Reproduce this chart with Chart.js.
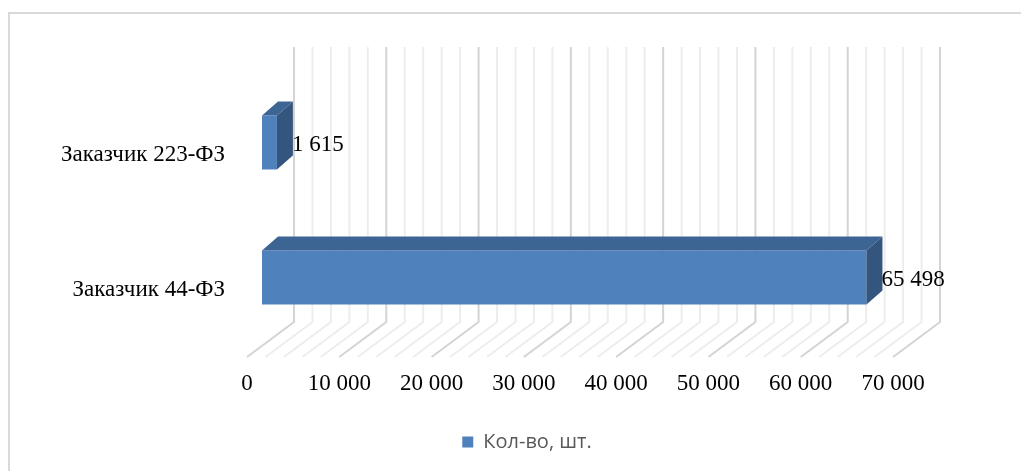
<!DOCTYPE html>
<html>
<head>
<meta charset="utf-8">
<script src="https://cdn.jsdelivr.net/npm/chart.js@4"></script>
<style>
  html, body { margin: 0; padding: 0; background: #fff; }
</style>
</head>
<body>
<canvas id="myChart" width="1021" height="471"></canvas>
<script>
// data
var categories = ["Заказчик 223-ФЗ", "Заказчик 44-ФЗ"];
var values = [1615, 65498];
var seriesName = "Кол-во, шт.";
var axisMax = 70000;
var majorStep = 10000;
var minorStep = 2000;

function fmt(v) {
  return String(v).replace(/\B(?=(\d{3})+(?!\d))/g, ' ');
}

// 3d look: back wall + floor, bar top/side faces, value labels
var depthX = 47, depthY = 35;   // floor depth
var barDX = 15, barDY = -12;    // where the bar front sits
var faceDX = 16, faceDY = 14;   // bar thickness in depth

var threeD = {
  id: 'threeD',
  beforeDraw: function (chart) {
    var c = chart.ctx;
    c.save();
    c.strokeStyle = '#d9d9d9';
    c.lineWidth = 2;
    c.strokeRect(9, 13, 1040, 500);
    c.restore();
  },
  beforeDatasetsDraw: function (chart) {
    var c = chart.ctx, x = chart.scales.x, a = chart.chartArea;
    c.save();
    c.lineWidth = 2;
    for (var v = 0; v <= axisMax; v += minorStep) {
      var px = x.getPixelForValue(v);
      c.strokeStyle = (v % majorStep === 0) ? '#d4d4d4' : '#ededed';
      c.beginPath();
      c.moveTo(px + depthX, 47);
      c.lineTo(px + depthX, a.bottom - depthY);
      c.lineTo(px, a.bottom);
      c.stroke();
    }
    c.restore();
    c.save();
    c.translate(barDX, barDY);
  },
  afterDatasetsDraw: function (chart) {
    var c = chart.ctx;
    var meta = chart.getDatasetMeta(0);
    meta.data.forEach(function (bar) {
      var p = bar.getProps(['x', 'y', 'base', 'height'], true);
      var y0 = p.y - p.height / 2, y1 = p.y + p.height / 2;
      var x0 = p.base, x1 = p.x;
      c.fillStyle = '#3d6594';
      c.beginPath();
      c.moveTo(x0, y0);
      c.lineTo(x1, y0);
      c.lineTo(x1 + faceDX, y0 - faceDY);
      c.lineTo(x0 + faceDX, y0 - faceDY);
      c.closePath();
      c.fill();
      c.fillStyle = '#34557e';
      c.beginPath();
      c.moveTo(x1, y0);
      c.lineTo(x1 + faceDX, y0 - faceDY);
      c.lineTo(x1 + faceDX, y1 - faceDY);
      c.lineTo(x1, y1);
      c.closePath();
      c.fill();
    });
    c.restore();
    c.save();
    c.fillStyle = '#000';
    c.font = '23px "Liberation Serif"';
    c.textAlign = 'left';
    c.textBaseline = 'middle';
    meta.data.forEach(function (bar, i) {
      var p = bar.getProps(['x', 'y'], true);
      c.fillText(fmt(values[i]), p.x + barDX + faceDX - 1, p.y + barDY + 2);
    });
    c.restore();
  }
};

var ctx = document.getElementById("myChart").getContext('2d');
var myChart = new Chart(ctx, {
  type: 'bar',
  data: {
    labels: categories,
    datasets: [{
      label: seriesName,
      data: values,
      backgroundColor: "#4f81bd",
      categoryPercentage: 1,
      barPercentage: 0.4
    }]
  },
  options: {
    indexAxis: 'y',
    responsive: false,
    animation: false,
    layout: { padding: { left: 33, right: 0, top: 87, bottom: 9 } },
    scales: {
      x: {
        min: 0, max: axisMax,
        grid: { display: false, drawTicks: false },
        border: { display: false },
        ticks: {
          stepSize: majorStep,
          color: '#000',
          padding: 13,
          maxRotation: 0,
          font: { family: 'Liberation Serif', size: 23 },
          callback: function (v) { return fmt(v); }
        },
        afterFit: function (s) { s.height = 65; }
      },
      y: {
        grid: { display: false, drawTicks: false },
        border: { display: false },
        ticks: {
          color: '#000',
          padding: 22,
          font: { family: 'Liberation Serif', size: 23 }
        },
        afterFit: function (s) { s.width = 214; }
      },
      // empty right-side spacer so the plot ends at 70 000 while the legend stays centred
      y2: {
        type: 'category',
        position: 'right',
        grid: { display: false, drawTicks: false },
        border: { display: false },
        ticks: { display: false },
        afterFit: function (s) { s.width = 128; }
      }
    },
    plugins: {
      legend: {
        position: 'bottom',
        labels: {
          boxWidth: 11,
          boxHeight: 11,
          color: '#595959',
          font: { family: 'Open Sans', size: 20 }
        }
      },
      tooltip: { enabled: false }
    }
  },
  plugins: [threeD]
});
</script>
</body>
</html>
